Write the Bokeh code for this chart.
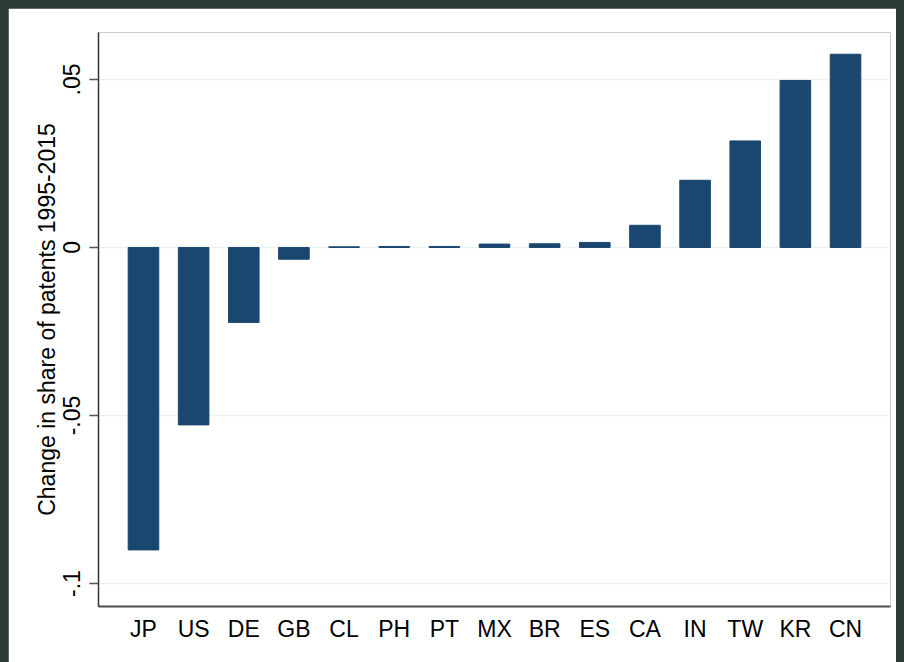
from bokeh.plotting import figure
from bokeh.models import Range1d, FixedTicker, ColumnDataSource
from bokeh.embed import file_html
from bokeh.resources import INLINE

countries = ["JP", "US", "DE", "GB", "CL", "PH", "PT", "MX", "BR", "ES", "CA", "IN", "TW", "KR", "CN"]
change = [-0.0900, -0.0528, -0.0223, -0.0035, 0.0002, 0.0003, 0.0003, 0.0010, 0.0011, 0.0015,
          0.0066, 0.0200, 0.0317, 0.0497, 0.0575]
y_ticks = [-0.1, -0.05, 0.0, 0.05]
y_tick_labels = ["-.1", "-.05", "0", ".05"]

idx = list(range(len(countries)))
src = ColumnDataSource(data=dict(x=idx, val=change, name=countries))

FONT = "Liberation Sans"

p = figure(width=888, height=654, output_backend="svg", toolbar_location=None,
           x_range=Range1d(-0.897, len(countries) - 1 + 0.897),
           y_range=Range1d(-0.10684, 0.06397),
           min_border_left=90, min_border_right=6, min_border_top=24, min_border_bottom=56)
p.background_fill_color = "white"
p.border_fill_color = "white"
p.outline_line_color = None

p.vbar(x="x", top="val", bottom=0, width=0.61, source=src,
       fill_color="#1a476f", line_color="#1a476f", line_width=1)

# grid
p.xgrid.grid_line_color = None
p.ygrid.grid_line_color = "#eaf2f3"
p.ygrid.grid_line_width = 1.5
p.ygrid.ticker = FixedTicker(ticks=y_ticks)

# x axis
xa = p.xaxis[0]
xa.ticker = FixedTicker(ticks=idx)
xa.major_label_overrides = {i: c for i, c in zip(idx, countries)}
xa.major_tick_out = 0
xa.major_tick_in = 0
xa.minor_tick_out = 0
xa.minor_tick_in = 0
xa.axis_line_color = "#4d4d4d"
xa.axis_line_width = 2
xa.major_label_text_font = FONT
xa.major_label_text_font_size = "23px"
xa.major_label_text_color = "black"
xa.major_label_standoff = 9

# y axis
ya = p.yaxis[0]
ya.ticker = FixedTicker(ticks=y_ticks)
ya.major_label_overrides = {t: l for t, l in zip(y_ticks, y_tick_labels)}
ya.major_label_orientation = "vertical"
ya.major_tick_out = 9
ya.major_tick_in = 0
ya.minor_tick_out = 0
ya.minor_tick_in = 0
ya.major_tick_line_color = "#555555"
ya.major_tick_line_width = 1.5
ya.axis_line_color = "#333333"
ya.axis_line_width = 1.5
ya.major_label_text_font = FONT
ya.major_label_text_font_size = "23px"
ya.major_label_text_color = "black"
ya.major_label_standoff = 9
ya.axis_label = "Change in share of patents 1995-2015"
ya.axis_label_text_font = FONT
ya.axis_label_text_font_size = "23px"
ya.axis_label_text_font_style = "normal"
ya.axis_label_text_color = "black"
ya.axis_label_standoff = 1

html = file_html(p, INLINE)
html = html.replace("</head>",
                    "<style>html,body{background:#2b3a34;height:auto;}body{margin:8px !important;}</style></head>", 1)
open("out.html", "w").write(html)
